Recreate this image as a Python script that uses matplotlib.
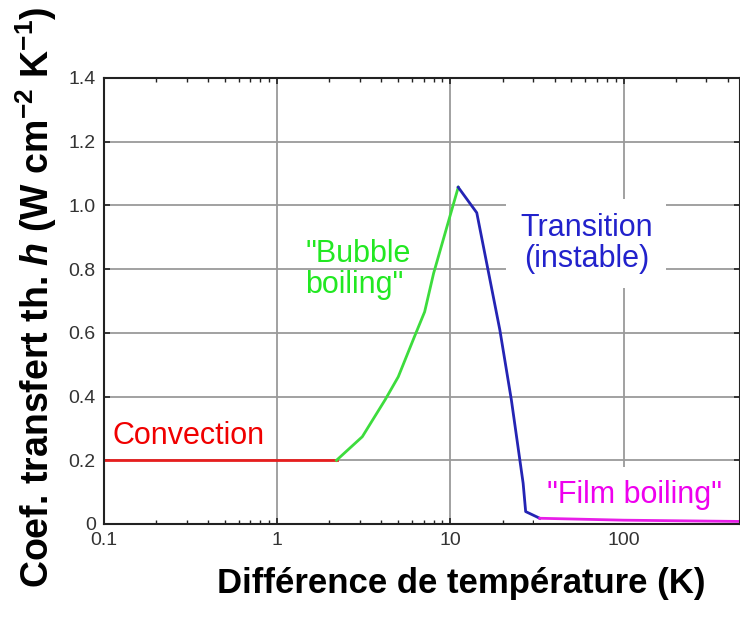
import matplotlib.pyplot as plt
from matplotlib.ticker import FixedLocator, LogLocator, NullFormatter

plt.rcParams["font.family"] = ["Liberation Sans", "DejaVu Sans"]
plt.rcParams["mathtext.fontset"] = "custom"
plt.rcParams["mathtext.rm"] = "Liberation Sans:bold"
plt.rcParams["mathtext.bf"] = "Liberation Sans:bold"
plt.rcParams["mathtext.it"] = "Liberation Sans:bold:italic"

# regimes of the boiling curve (dT in K, h in W cm-2 K-1)
conv_x = [0.1, 2.2]
conv_y = [0.2, 0.2]
bubble_x = [2.2, 3.1, 4.2, 5.0, 6.2, 7.1, 8.0, 11.1]
bubble_y = [0.2, 0.274, 0.39, 0.462, 0.588, 0.666, 0.787, 1.057]
trans_x = [11.1, 14.2, 19.3, 22.5, 26.3, 27.2, 32.8]
trans_y = [1.057, 0.977, 0.609, 0.389, 0.128, 0.039, 0.018]
film_x = [32.8, 100, 470]
film_y = [0.018, 0.012, 0.008]

y_ticks = [0, 0.2, 0.4, 0.6, 0.8, 1.0, 1.2, 1.4]
y_labels = ["0", "0.2", "0.4", "0.6", "0.8", "1.0", "1.2", "1.4"]
x_ticks = [0.1, 1, 10, 100]
x_labels = ["0.1", "1", "10", "100"]

fig = plt.figure(figsize=(7.4, 6.17), dpi=100)
ax = fig.add_axes([104 / 740, 1 - 524 / 617, 636 / 740, 446 / 617])
ax.set_axisbelow(True)

ax.plot(conv_x, conv_y, color="#e61e1e", lw=2, zorder=3)
ax.plot(bubble_x, bubble_y, color="#3ddc3d", lw=2, zorder=3)
ax.plot(trans_x, trans_y, color="#2424b4", lw=2, zorder=3)
ax.plot(film_x, film_y, color="#e81ee8", lw=2, zorder=3)

ax.set_xscale("log")
ax.set_xlim(0.1, 470)
ax.set_ylim(0, 1.4)
ax.xaxis.set_major_locator(FixedLocator(x_ticks))
ax.set_xticklabels(x_labels)
ax.xaxis.set_minor_locator(LogLocator(base=10, subs=range(2, 10)))
ax.xaxis.set_minor_formatter(NullFormatter())
ax.set_yticks(y_ticks)
ax.set_yticklabels(y_labels)

ax.grid(True, which="major", color="#9a9a9a", lw=1.3)
ax.tick_params(which="both", direction="in", top=True, right=True,
               labelsize=14, labelcolor="#333333", color="#222222")
ax.tick_params(which="major", length=4, width=1.2, pad=6)
ax.tick_params(which="minor", length=3, width=1)
for s in ax.spines.values():
    s.set_linewidth(1.5)
    s.set_color("#222222")
    s.set_zorder(4)

box = dict(facecolor="white", edgecolor="none", boxstyle="square,pad=0.45")
ax.text(0.112, 0.228, "Convection", color="#f00000", fontsize=22, va="bottom", ha="left")
ax.text(1.45, 0.80, "\"Bubble\nboiling\"", color="#22e822", fontsize=22,
        ha="left", va="center", linespacing=1.05)
ax.text(61, 0.88, "Transition\n(instable)", color="#2222cc", fontsize=22,
        ha="center", va="center", linespacing=1.05, bbox=box, zorder=2)
ax.text(116, 0.09, "\"Film boiling\"", color="#ee00ee", fontsize=22,
        ha="center", va="center", bbox=box, zorder=2)

fig.text(0.049, 0.518, r"Coef. transfert th. $h$ (W cm$^{\mathregular{-2}}$ K$^{\mathregular{-1}}$)",
         rotation=90, fontsize=27, fontweight="bold", ha="center", va="center")
fig.text(461 / 740, 0.055, "Différence de température (K)", fontsize=25,
         fontweight="bold", ha="center", va="center")

fig.savefig("out.png", dpi=100)
